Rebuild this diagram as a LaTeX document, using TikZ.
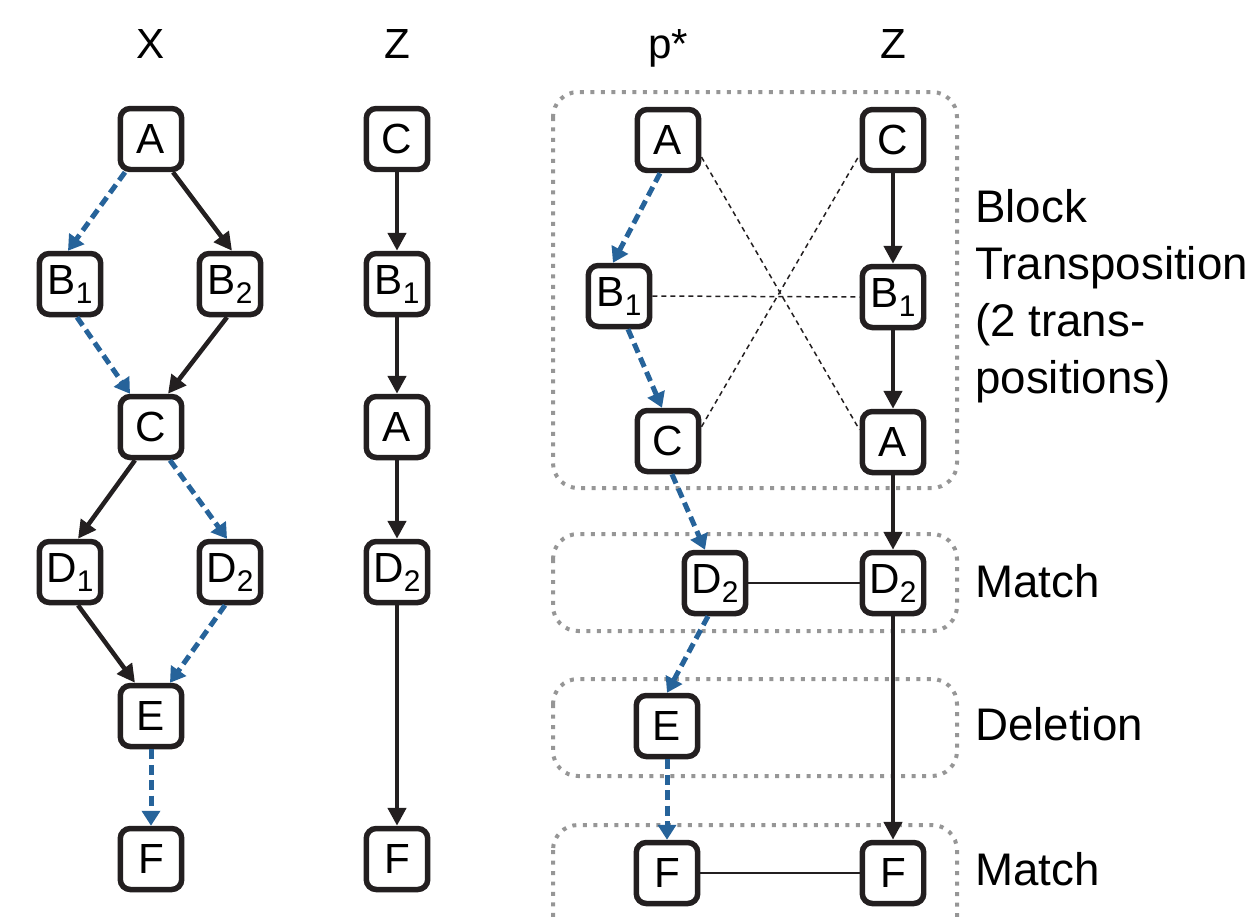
\documentclass[tikz,border=0pt]{standalone}
\usepackage{fontspec}
\setmainfont{Liberation Sans}
\usepackage{tikz}
\usepackage{xcolor}
\usetikzlibrary{shapes,arrows.meta}

\definecolor{nodeblack}{RGB}{35,31,32}
\definecolor{blueline}{RGB}{38,99,154}
\definecolor{boxgray}{RGB}{150,150,150}
\newcommand{\nsub}[1]{\raisebox{-0.18cm}{\fontsize{17}{17}\selectfont #1}}

\begin{document}
\begin{tikzpicture}[x=0.02cm,y=-0.02cm]
\tikzstyle{box} = [draw=nodeblack, line width=0.11cm, rounded corners=0.2cm, minimum width=1.23cm, minimum height=1.22cm, inner sep=0pt, font=\fontsize{24}{28}\selectfont]
\tikzstyle{head} = [anchor=base, font=\fontsize{24}{28}\selectfont]
\tikzstyle{optext} = [anchor=base west, align=left, inner sep=0pt, font=\fontsize{26}{32.4}\selectfont]
\tikzstyle{solidarrow} = [draw=nodeblack, line width=0.09cm, -{Triangle[length=3.6mm,width=3.6mm]}]
\tikzstyle{bluearrow} = [draw=blueline, line width=0.1cm, dash pattern=on 2mm off 1.1mm, -{Triangle[length=3mm,width=3.6mm]}]
\tikzstyle{crossline} = [draw=nodeblack, line width=0.03cm, dash pattern=on 1mm off 0.8mm]
\tikzstyle{matchline} = [draw=nodeblack, line width=0.035cm]
\tikzstyle{opbox} = [draw=boxgray, line width=0.08cm, dash pattern=on 0.08cm off 0.13cm, rounded corners=0.5cm]

\useasboundingbox (0,0) rectangle (1259,917);

% operation frames
\draw[opbox] (553,92) rectangle (957,488);
\draw[opbox] (553,534) rectangle (957,631);
\draw[opbox] (553,679) rectangle (957,776);
\draw[opbox] (553,825) rectangle (957,960);

% column titles
\node[head] (hX) at (151,58) {X};
\node[head] (hZ) at (397,58) {Z};
\node[head] (hP) at (668,58) {p*};
\node[head] (hR) at (893,58) {Z};

% graph X
\node[box] (xA) at (151,139) {A};
\node[box] (xB1) at (70,284) {B\nsub{1}};
\node[box] (xB2) at (230,284) {B\nsub{2}};
\node[box] (xC) at (151,427) {C};
\node[box] (xD1) at (70,572) {D\nsub{1}};
\node[box] (xD2) at (230,572) {D\nsub{2}};
\node[box] (xE) at (151,716) {E};
\node[box] (xF) at (151,859) {F};

\draw[bluearrow] ([xshift=-0.52cm]xA.south) -- ([xshift=-0.04cm]xB1.north);
\draw[solidarrow] ([xshift=0.44cm]xA.south) -- ([xshift=0.04cm]xB2.north);
\draw[bluearrow] ([xshift=0.14cm]xB1.south) -- ([xshift=-0.42cm]xC.north);
\draw[solidarrow] ([xshift=-0.06cm]xB2.south) -- ([xshift=0.34cm]xC.north);
\draw[solidarrow] ([xshift=-0.32cm]xC.south) -- ([xshift=0.16cm]xD1.north);
\draw[bluearrow] ([xshift=0.38cm]xC.south) -- ([xshift=-0.06cm]xD2.north);
\draw[solidarrow] ([xshift=0.16cm]xD1.south) -- ([xshift=-0.32cm]xE.north);
\draw[bluearrow] ([xshift=-0.10cm]xD2.south) -- ([xshift=0.38cm]xE.north);
\draw[bluearrow] (xE) -- (xF);

% path Z
\node[box] (zC) at (397,139) {C};
\node[box] (zB1) at (397,284) {B\nsub{1}};
\node[box] (zA) at (397,427) {A};
\node[box] (zD2) at (397,572) {D\nsub{2}};
\node[box] (zF) at (397,859) {F};

\draw[solidarrow] (zC) -- (zB1);
\draw[solidarrow] (zB1) -- (zA);
\draw[solidarrow] (zA) -- (zD2);
\draw[solidarrow] (zD2) -- (zF);

% best path p* against Z
\node[box] (pA) at (668,140) {A};
\node[box] (pB1) at (619,296) {B\nsub{1}};
\node[box] (pC) at (668,441) {C};
\node[box] (pD2) at (715,583) {D\nsub{2}};
\node[box] (pE) at (667,726) {E};
\node[box] (pF) at (667,873) {F};

\node[box] (rC) at (893,140) {C};
\node[box] (rB1) at (893,297) {B\nsub{1}};
\node[box] (rA) at (893,442) {A};
\node[box] (rD2) at (893,583) {D\nsub{2}};
\node[box] (rF) at (893,873) {F};

\draw[bluearrow] ([xshift=-0.16cm]pA.south) -- ([xshift=-0.12cm]pB1.north);
\draw[bluearrow] ([xshift=0.18cm]pB1.south) -- ([xshift=-0.12cm]pC.north);
\draw[bluearrow] ([xshift=0.08cm]pC.south) -- ([xshift=-0.2cm]pD2.north);
\draw[bluearrow] ([xshift=-0.14cm]pD2.south) -- (pE.north);
\draw[bluearrow] (pE) -- (pF);

\draw[solidarrow] (rC) -- (rB1);
\draw[solidarrow] (rB1) -- (rA);
\draw[solidarrow] (rA) -- (rD2);
\draw[solidarrow] (rD2) -- (rF);

\draw[crossline] (pA.-27) -- (rA.160);
\draw[crossline] (pB1.east) -- (rB1.west);
\draw[crossline] (pC.23) -- (rC.-156);
\draw[matchline] (pD2.east) -- (rD2.west);
\draw[matchline] (pF.east) -- (rF.west);

% operation names
\node[optext] (tBlock) at (975,393) {Block\\Transposition\\(2 trans-\\positions)};
\node[optext] (tMatch) at (975,597) {Match};
\node[optext] (tDel) at (975,740) {Deletion};
\node[optext] (tMatchF) at (975,885) {Match};
\end{tikzpicture}
\end{document}
